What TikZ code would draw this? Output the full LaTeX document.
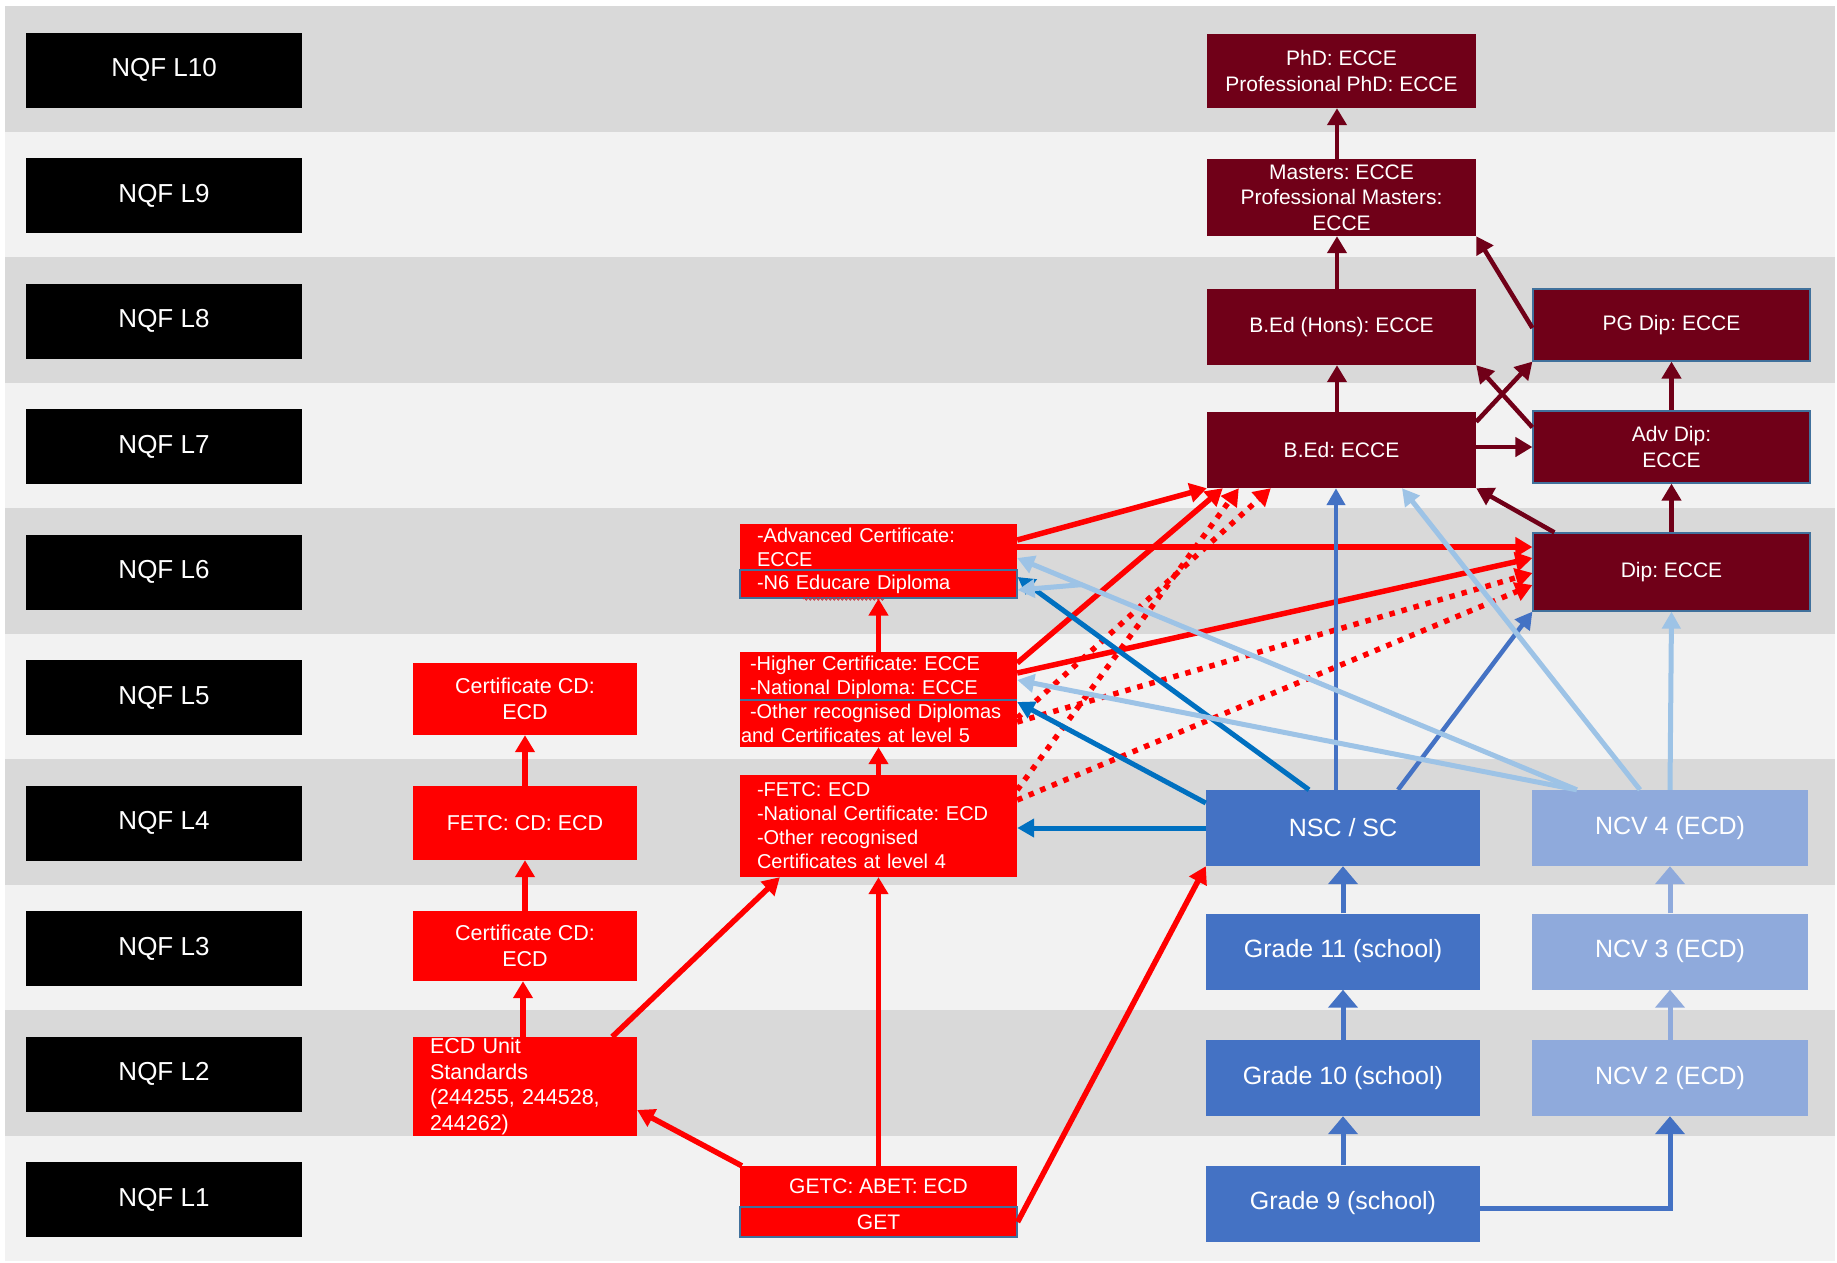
\documentclass[tikz,border=0pt]{standalone}
\usepackage{fontspec}
\setmainfont{Liberation Sans}
\usetikzlibrary{arrows.meta,calc,decorations.pathmorphing}
\definecolor{bandD}{HTML}{D9D9D9}
\definecolor{bandL}{HTML}{F2F2F2}
\definecolor{dred}{RGB}{112,0,24}
\definecolor{nblue}{HTML}{4472C4}
\definecolor{lblue}{HTML}{8FAADC}
\definecolor{dblue}{HTML}{0070C0}
\definecolor{pblue}{HTML}{9DC3E6}
\definecolor{outl}{HTML}{41719C}
\definecolor{wavy}{RGB}{200,50,60}
\frenchspacing
\begin{document}
\begin{tikzpicture}[x=1pt,y=-1pt,
  nqf/.style={fill=black, text=white, minimum width=276pt, minimum height=75pt, inner sep=0pt, font=\fontsize{26}{30}\selectfont},
  drbox/.style={fill=dred, text=white, inner sep=0pt, align=center, font=\fontsize{21}{25.5}\selectfont},
  drout/.style={drbox, draw=outl, line width=1.2pt},
  rbox/.style={fill=red, text=white, inner sep=0pt, minimum width=224pt, align=center, font=\fontsize{21.5}{25.5}\selectfont},
  mbox/.style={fill=red, text=white, inner ysep=0pt, minimum width=277pt, align=left, font=\fontsize{20}{24}\selectfont},
  gbox/.style={fill=red, text=white, inner sep=0pt, minimum width=277pt, align=center, font=\fontsize{21}{25}\selectfont},
  bbox/.style={fill=nblue, text=white, inner sep=0pt, minimum width=274pt, minimum height=76pt, font=\fontsize{25}{30}\selectfont},
  lbox/.style={fill=lblue, text=white, inner sep=0pt, minimum width=276pt, minimum height=76pt, font=\fontsize{25}{30}\selectfont},
  drA/.style={draw=dred, line width=4.5pt, -{Triangle[length=17pt,width=19pt]}},
  rA/.style={draw=red, line width=5.5pt, -{Triangle[length=17pt,width=19pt]}},
  rD/.style={rA, dash pattern=on 5.5pt off 7pt},
  bA/.style={draw=nblue, line width=4.5pt, -{Triangle[length=17pt,width=18pt]}},
  dbA/.style={draw=dblue, line width=5pt, -{Triangle[length=17pt,width=18pt]}},
  pbA/.style={draw=pblue, line width=5pt, -{Triangle[length=17pt,width=18pt]}},
  bV/.style={draw=nblue, line width=5pt, -{Triangle[length=18pt,width=29pt]}},
  lV/.style={draw=lblue, line width=5pt, -{Triangle[length=18pt,width=29pt]}}
]
\useasboundingbox (0,0) rectangle (1837,1262);
\fill[white] (0,0) rectangle (1837,1262);
% bands
\foreach \k/\c in {10/bandD,9/bandL,8/bandD,7/bandL,6/bandD,5/bandL,4/bandD,3/bandL,2/bandD,1/bandL}
  \fill[\c] (5,{6+(10-\k)*125.5}) rectangle (1835,{6+(11-\k)*125.5});
% NQF level boxes
\foreach \k in {1,...,10}
  \node[nqf] (nqf\k) at (164,{70.25+(10-\k)*125.5}) {NQF L\k};

% dark red column
\node[drbox, minimum width=269pt, minimum height=74pt] (phd) at (1341.5,71) {PhD: ECCE\\Professional PhD: ECCE};
\node[drbox, minimum width=269pt, minimum height=77pt] (mas) at (1341.5,197.5) {Masters: ECCE\\Professional Masters:\\ECCE};
\node[drbox, minimum width=269pt, minimum height=76pt] (hons) at (1341.5,327) {B.Ed (Hons): ECCE};
\node[drbox, minimum width=269pt, minimum height=76pt] (bed) at (1341.5,450) {B.Ed: ECCE};
\node[drout, minimum width=277pt, minimum height=72pt] (pgd) at (1671.5,325) {PG Dip: ECCE};
\node[drout, minimum width=277pt, minimum height=72pt] (advd) at (1671.5,447) {Adv Dip:\\ECCE};
\node[drout, minimum width=277pt, minimum height=78pt] (dip) at (1671.5,572) {Dip: ECCE};

% blue columns
\node[bbox] (nsc) at (1343,828) {NSC / SC};
\node[bbox] (g11) at (1343,951.5) {Grade 11 (school)};
\node[bbox] (g10) at (1343,1078) {Grade 10 (school)};
\node[bbox] (g9) at (1343,1203.5) {Grade 9 (school)};
\node[lbox] (ncv4) at (1670,828) {NCV 4 (ECD)};
\node[lbox] (ncv3) at (1670,951.5) {NCV 3 (ECD)};
\node[lbox] (ncv2) at (1670,1078) {NCV 2 (ECD)};

% left red column
\node[rbox, minimum height=72pt] (ccd5) at (525,699) {Certificate CD:\\ECD};
\node[rbox, minimum height=74pt] (fetccd) at (525,823) {FETC: CD: ECD};
\node[rbox, minimum height=70pt] (ccd3) at (525,946) {Certificate CD:\\ECD};
\node[rbox, minimum height=99pt, align=left, inner xsep=17pt, text width=190pt] (ecdus) at (525,1086.5) {ECD Unit\\Standards\\(244255, 244528,\\244262)};

% middle red column
\node[mbox, minimum height=46pt, inner xsep=17pt, text width=243pt] (advc) at (878.5,547) {-Advanced Certificate:\\ECCE};
\node[mbox, draw=outl, line width=1.2pt, minimum height=28pt, inner xsep=17pt, text width=243pt] (n6) at (878.5,584) {-N6 Educare Diploma};
\draw[wavy, line width=0.8pt, decorate, decoration={snake, amplitude=1.2pt, segment length=4pt}] (803,599) -- (884,599);
\node[mbox, minimum height=95pt, inner xsep=1pt, text width=275pt] (hc) at (878.5,699.5) {\hspace*{9pt}-Higher Certificate: ECCE\\\hspace*{9pt}-National Diploma: ECCE\\\hspace*{9pt}-Other recognised Diplomas\\and Certificates at level 5};
\draw[outl, line width=1.2pt] ($(hc.west)+(0,0.5)$) -- ($(hc.east)+(0,0.5)$);
\node[mbox, minimum height=102pt, inner xsep=17pt, text width=243pt] (fetc) at (878.5,826) {-FETC: ECD\\-National Certificate: ECD\\-Other recognised\\Certificates at level 4};
\node[gbox, minimum height=41pt] (getc) at (878.5,1186.5) {GETC: ABET: ECD};
\node[gbox, draw=outl, line width=1.2pt, minimum height=30pt] (get) at (878.5,1222) {GET};

% dark red connectors
\draw[drA] ([xshift=-4.5pt]mas.north) -- ([xshift=-4.5pt]phd.south);
\draw[drA] ([xshift=-4.5pt]hons.north) -- ([xshift=-4.5pt]mas.south);
\draw[drA] ([xshift=-4.5pt]bed.north) -- ([xshift=-4.5pt]hons.south);
\draw[drA] ([yshift=-3pt]pgd.west) -- (mas.south east);
\draw[drA] ([yshift=-10pt]bed.north east) -- (pgd.south west);
\draw[drA] ([yshift=-17pt]advd.north west) -- (hons.south east);
\draw[drA] (advd.west -| bed.east) -- (advd.west);
\draw[drA] (advd.north) -- (pgd.south);
\draw[drA] (dip.north) -- (advd.south);
\draw[drA] ([xshift=22pt]dip.north west) -- (bed.south east);

% red connectors
\draw[rA] (fetccd.north) -- (ccd5.south);
\draw[rA] (ccd3.north) -- (fetccd.south);
\draw[rA] ([xshift=-2pt]ecdus.north) -- ([xshift=-2pt]ccd3.south);
\draw[rA] ([xshift=-25pt]ecdus.north east) -- ([xshift=40pt]fetc.south west);
\draw[rA] ([xshift=2pt]getc.north west) -- ([yshift=-23.5pt]ecdus.east);
\draw[rA] (getc.north) -- (fetc.south);
\draw[rA] (get.east) -- (nsc.south west);
\draw[rA] (fetc.north) -- (hc.south);
\draw[rA] (hc.north) -- (n6.south);
\draw[rA] ([yshift=7pt]advc.east) -- (bed.south west);
\draw[rA] (advc.east) -- (advc.east -| dip.west);
\draw[rA] ([yshift=36.5pt]hc.east) -- ([xshift=16pt]bed.south west);
\draw[rA] ([yshift=26.5pt]hc.east) -- ([yshift=14pt]dip.west);
\draw[rD] ([yshift=-18.5pt]hc.east) -- ([xshift=64pt]bed.south west);
\draw[rD] ([yshift=36pt]fetc.east) -- ([xshift=32pt]bed.south west);
\draw[rD] ([yshift=-22.5pt]hc.east) -- ([yshift=-1pt]dip.west);
\draw[rD] ([yshift=26pt]fetc.east) -- ([yshift=-13pt]dip.west);

% blue connectors
\draw[dbA] ([xshift=-34pt]nsc.north) -- ([yshift=7pt]n6.east);
\draw[dbA] ([yshift=25pt]nsc.west) -- ([yshift=-2.5pt]hc.east);
\draw[dbA] (nsc.west) -- (nsc.west -| fetc.east);
\draw[bA] ([xshift=-7pt]nsc.north) -- ([xshift=-5.5pt]bed.south);
\draw[bA] ([xshift=55pt]nsc.north) -- (dip.south west);
\draw[bV] (g11.north) -- (nsc.south);
\draw[bV] (g10.north) -- (g11.south);
\draw[bV] (g9.north) -- (g10.south);
\draw[bV] ([yshift=-4.5pt]g9.east) -| (ncv2.south);
\draw[lV] (ncv2.north) -- (ncv3.south);
\draw[lV] (ncv3.north) -- (ncv4.south);
\draw[pbA] (ncv4.north) -- (dip.south);
\draw[pbA] ([xshift=-30pt]ncv4.north) -- ([xshift=60.5pt]bed.south);
\coordinate (s4) at ([xshift=45pt]ncv4.north west);
\coordinate (ae) at ([yshift=-11pt]advc.east);
\draw[pbA] (s4) -- (ae);
\draw[pbA] (s4) -- ([yshift=19.5pt]hc.east);
\coordinate (j) at ($(s4)!0.885!(ae)$);
\draw[pbA] (j) -- ([yshift=-6pt]n6.east);
\end{tikzpicture}
\end{document}
